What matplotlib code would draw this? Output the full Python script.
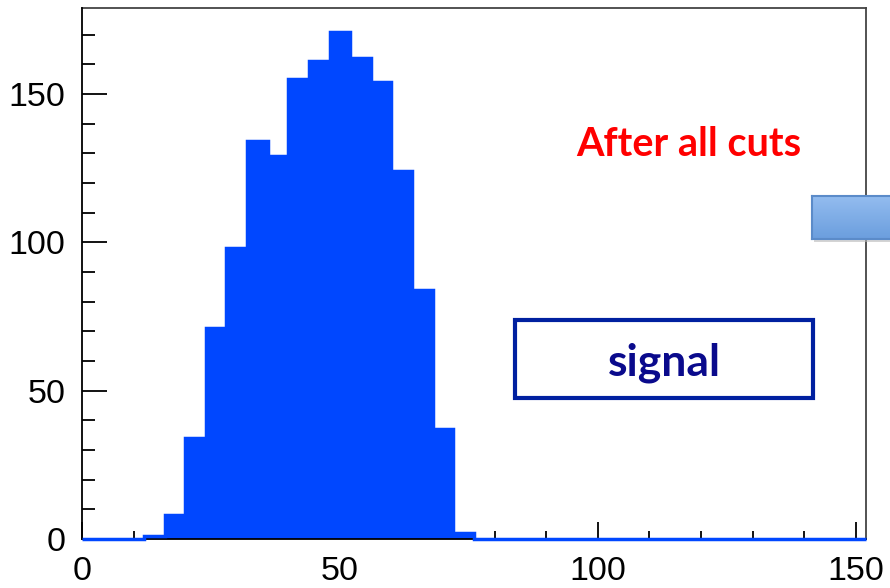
import numpy as np
import matplotlib
matplotlib.use("Agg")
import matplotlib.pyplot as plt
from matplotlib.patches import Rectangle
from matplotlib.ticker import MultipleLocator

# histogram contents: 38 bins of width 4 from 0 to 152
bin_edges = np.arange(0, 153, 4)
counts = [0, 0, 0, 1, 8, 34, 71, 98, 134, 129, 155, 161, 171, 162, 154,
          124, 84, 37, 2, 0, 0, 0, 0, 0, 0, 0, 0, 0, 0, 0, 0, 0, 0, 0, 0,
          0, 0, 0]
x_ticks = [0, 50, 100, 150]
y_ticks = [0, 50, 100, 150]

hist_blue = "#0047ff"

plt.rcParams["font.family"] = ["Liberation Sans", "DejaVu Sans"]

fig = plt.figure(figsize=(8.9, 5.88), dpi=100)
ax = fig.add_axes([82 / 890, 49 / 588, 784 / 890, 531 / 588])

ax.stairs(counts, bin_edges, fill=True, color=hist_blue, zorder=2)
ax.stairs(counts, bin_edges, color=hist_blue, lw=2.5, baseline=None,
          zorder=4, clip_on=False)

ax.set_xlim(0, 152)
ax.set_ylim(0, 179)
ax.set_xticks(x_ticks)
ax.set_yticks(y_ticks)
ax.xaxis.set_minor_locator(MultipleLocator(10))
ax.yaxis.set_minor_locator(MultipleLocator(10))
ax.tick_params(which="both", direction="in", width=1.3, colors="black",
               labelsize=24.5)
ax.tick_params(axis="y", which="major", length=18, pad=12)
ax.tick_params(axis="y", which="minor", length=9)
ax.tick_params(axis="x", which="major", length=12, pad=12)
ax.tick_params(axis="x", which="minor", length=6)
ax.tick_params(top=False, right=False)

for side in ["left", "bottom"]:
    ax.spines[side].set_linewidth(1.3)
    ax.spines[side].set_zorder(3)
for side in ["top", "right"]:
    ax.spines[side].set_linewidth(1.3)
    ax.spines[side].set_color("#444444")

# slide annotations
fig.text(689 / 890, 1 - 145 / 588, "After all cuts", color="#ff0000",
         fontsize=28.5, fontweight="bold", family=["Lato", "DejaVu Sans"],
         ha="center", va="center")

fig.patches.append(Rectangle((515 / 890, 1 - 398 / 588), 298 / 890, 78 / 588,
                             transform=fig.transFigure, fill=False,
                             edgecolor="#0020a0", lw=3))
fig.text(664 / 890, 1 - 363 / 588, "signal", color="#0a0a8c",
         fontsize=32, fontweight="bold", family=["Lato", "DejaVu Sans"],
         ha="center", va="center")

# light blue shape at the right edge, with a soft gradient and shadow
shadow = Rectangle((814 / 890, 1 - 242 / 588), 80 / 890, 43 / 588,
                   transform=fig.transFigure, facecolor="#b8b8b8",
                   edgecolor="none", alpha=0.6, zorder=5)
fig.patches.append(shadow)
grad_ax = fig.add_axes([812 / 890, 1 - 239 / 588, 80 / 890, 43 / 588])
grad_ax.set_zorder(6)
grad = np.linspace(0, 1, 64).reshape(-1, 1)
top_c = np.array([0.58, 0.74, 0.94])
bot_c = np.array([0.42, 0.62, 0.87])
img = top_c + (bot_c - top_c) * grad[:, :, None]
grad_ax.imshow(img, aspect="auto", extent=[0, 1, 0, 1])
grad_ax.set_xticks([])
grad_ax.set_yticks([])
for s in grad_ax.spines.values():
    s.set_color("#5b8bc9")
    s.set_linewidth(1.5)

fig.savefig("out.png", dpi=100)
